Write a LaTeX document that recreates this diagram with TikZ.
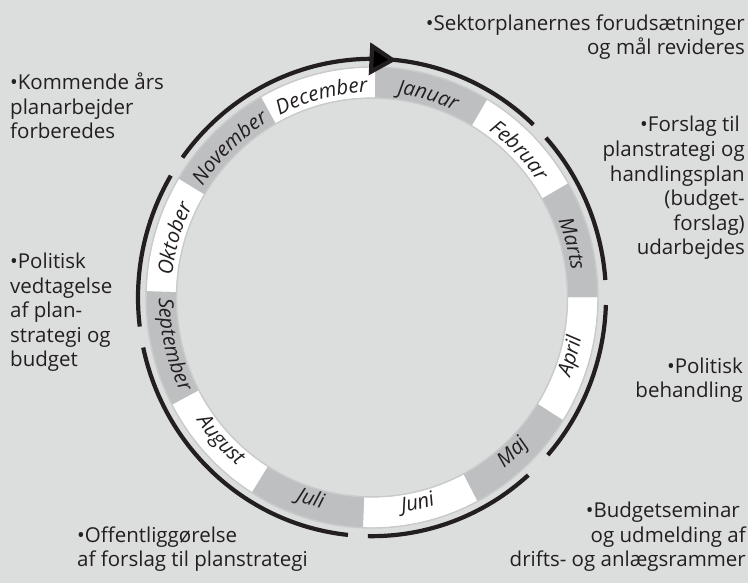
\documentclass[tikz,border=0pt]{standalone}
\usepackage{fontspec}
\setmainfont{Open Sans}
\usetikzlibrary{arrows.meta,bending,decorations.text}
\definecolor{paper}{HTML}{DBDEDD}
\definecolor{band}{HTML}{BEBFC1}
\definecolor{rim}{HTML}{C9CACC}
\definecolor{ink}{HTML}{231F20}
\newcommand\monthfont{\fontsize{20.5bp}{24bp}\selectfont\itshape}
% month name on the upper half: read clockwise, letters pointing outwards
\newcommand\uppermonth[3]{%
  \path[decorate,decoration={text along path,text={|\monthfont|#3},
    text align=center,text color=ink}]
    (#1:201) arc[start angle=#1,end angle=#2,radius=201];}
% month name on the lower half: read counter-clockwise, letters pointing inwards
\newcommand\lowermonth[3]{%
  \path[decorate,decoration={text along path,text={|\monthfont|#3},
    text align=center,text color=ink}]
    (#1:213) arc[start angle=#1,end angle=#2,radius=213];}
\begin{document}
\begin{tikzpicture}[x=1bp,y=1bp,
  note/.style={inner sep=0pt,text=ink,font=\fontsize{20.5bp}{24.6bp}\selectfont},
  phase/.style={line width=4.2bp,draw=ink},
  lead/.style={phase,-{Triangle[length=27bp,width=32bp]}}]
\fill[paper] (0,0) rectangle (748,583);
\useasboundingbox (0,0) rectangle (748,583);

\begin{scope}[shift={(372,285.5)},yscale=1.02]
  % month segments of the year wheel
  \foreach \a/\b/\col in {89.2/59.3/band,59.3/29.7/white,29.7/0/band,
      0/-32.2/white,-32.2/-62.2/band,-62.2/-92.3/white,-92.3/-122.2/band,
      -122.2/-152.3/white,-152.3/-181.6/band,178.4/148.9/white,
      148.9/119.4/band,119.4/89.2/white}
    \fill[\col] (\a:196) arc[start angle=\a,end angle=\b,radius=196]
      -- (\b:225.5) arc[start angle=\b,end angle=\a,radius=225.5] -- cycle;
  \draw[rim,line width=1.4bp] (0,0) circle[radius=195.5];
  \draw[rim,line width=1.4bp] (0,0) circle[radius=226];

  % month names
  \uppermonth{89.2}{59.3}{Januar}
  \uppermonth{59.3}{29.7}{Februar}
  \uppermonth{29.7}{0}{Marts}
  \lowermonth{-32.2}{0}{April}
  \lowermonth{-62.2}{-32.2}{Maj}
  \lowermonth{-92.3}{-62.2}{Juni}
  \lowermonth{-122.2}{-92.3}{Juli}
  \lowermonth{-152.3}{-122.2}{August}
  \lowermonth{-181.6}{-152.3}{September}
  \uppermonth{178.4}{148.9}{Oktober}
  \uppermonth{148.9}{119.4}{November}
  \uppermonth{119.4}{89.2}{December}

  % phases of the planning year
  \draw[lead]  (144.1:234) arc[start angle=144.1,end angle=84,radius=234];
  \draw[phase] (85:234)    arc[start angle=85,end angle=46.4,radius=234];
  \draw[phase] (42:234)    arc[start angle=42,end angle=4.2,radius=234];
  \draw[phase] (-1.8:234)  arc[start angle=-1.8,end angle=-41.3,radius=234];
  \draw[phase] (-48.1:234) arc[start angle=-48.1,end angle=-91,radius=234];
  \draw[phase] (-95.9:234) arc[start angle=-95.9,end angle=-167.9,radius=234];
  \draw[phase] (-173:234)  arc[start angle=-173,end angle=-210.7,radius=234];
\end{scope}

% descriptions of the phases (anchored at the baseline of the last line)
\node[note,anchor=base west,align=left] (prep) at (10,444)
  {•Kommende års\\planarbejder\\forberedes};
\node[note,anchor=base east,align=right] (revise) at (745,528)
  {•Sektorplanernes forudsætninger\\og mål revideres};
\node[note,anchor=base east,align=right] (draft) at (745,328)
  {•Forslag til\hspace*{5bp}\\planstrategi og\hspace*{5bp}\\handlingsplan\\(budget-\\forslag)\\udarbejdes};
\node[note,anchor=base east,align=right] (review) at (743,185)
  {•Politisk\\behandling};
\node[note,anchor=base east,align=right] (seminar) at (746,16)
  {•Budgetseminar\hspace*{6bp}\\og udmelding af\hspace*{3bp}\\drifts- og anlægsrammer};
\node[note,anchor=base west,align=left] (publish) at (77,16)
  {•Offentliggørelse\\af forslag til planstrategi};
\node[note,anchor=base west,align=left] (adopt) at (10,216)
  {•Politisk\\vedtagelse\\af plan-\\strategi og\\budget};
\end{tikzpicture}
\end{document}
